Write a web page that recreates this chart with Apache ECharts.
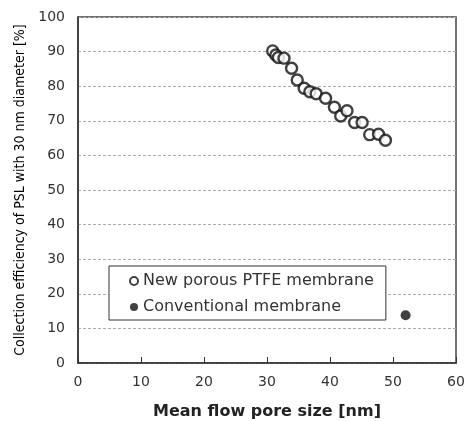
<!DOCTYPE html>
<html>
<head>
<meta charset="utf-8">
<script src="https://cdn.jsdelivr.net/npm/echarts@6/dist/echarts.min.js"></script>
<style>
  html, body { margin: 0; padding: 0; background: #fff; }
  #chart { width: 469px; height: 421px; }
</style>
</head>
<body>
<div id="chart"></div>
<script>
// pore size [nm] and collection efficiency [%]
const newPoreSize = [30.9, 31.4, 31.8, 32.7, 33.9, 34.8, 35.9, 36.8, 37.8, 39.3, 40.7, 41.7, 42.7, 43.9, 45.1, 46.3, 47.7, 48.8]
const newEfficiency = [90.2, 89.0, 88.3, 88.1, 85.2, 81.8, 79.4, 78.4, 77.8, 76.5, 73.9, 71.4, 72.9, 69.5, 69.5, 66.0, 66.1, 64.4]
const convPoreSize = [52.0]
const convEfficiency = [13.8]

const seriesNames = ['New porous PTFE membrane', 'Conventional membrane']

const zip = (xs, ys) => xs.map((x, i) => [x, ys[i]])

const chart = echarts.init(document.getElementById('chart'))

const tickFont = { fontFamily: 'DejaVu Sans', fontSize: 14, color: '#333' }

chart.setOption({
  animation: false,
  grid: {
    left: 78,
    right: 13,
    top: 17,
    bottom: 58,
    outerBoundsMode: 'none',
    show: true,
    borderColor: '#444',
    borderWidth: 1.5
  },
  legend: {
    orient: 'vertical',
    left: 109,
    top: 266,
    padding: [7, 12, 5, 20],
    itemGap: 10,
    itemWidth: 8,
    itemHeight: 8,
    backgroundColor: '#fff',
    borderColor: '#333',
    borderWidth: 1,
    textStyle: { fontFamily: 'DejaVu Sans', fontSize: 16, color: '#333' },
    data: seriesNames
  },
  xAxis: {
    type: 'value',
    min: 0,
    max: 60,
    interval: 10,
    name: 'Mean flow pore size [nm]',
    nameLocation: 'middle',
    nameGap: 41,
    nameTextStyle: { fontFamily: 'DejaVu Sans', fontSize: 16, fontWeight: 'bold', color: '#222' },
    axisLine: { lineStyle: { color: '#333', width: 1.5 } },
    axisTick: { inside: true, length: 6, lineStyle: { color: '#333' } },
    axisLabel: { ...tickFont, margin: 12 },
    splitLine: { show: false }
  },
  yAxis: {
    type: 'value',
    min: 0,
    max: 100,
    interval: 10,
    name: 'Collection efficiency of PSL with 30 nm diameter [%]',
    nameLocation: 'middle',
    nameGap: 49,
    nameTextStyle: { fontFamily: 'DejaVu Sans Condensed', fontSize: 14, color: '#000' },
    axisLine: { lineStyle: { color: '#333', width: 1.5 } },
    axisTick: { show: false },
    axisLabel: { ...tickFont, margin: 13 },
    splitLine: { lineStyle: { color: '#aaa', type: [3, 2], width: 1 } }
  },
  series: [
    {
      name: seriesNames[0],
      type: 'scatter',
      symbol: 'circle',
      symbolSize: 11,
      itemStyle: { color: '#fff', borderColor: '#111', borderWidth: 2.4 },
      data: zip(newPoreSize, newEfficiency)
    },
    {
      name: seriesNames[1],
      type: 'scatter',
      symbol: 'circle',
      symbolSize: 10,
      itemStyle: { color: '#111' },
      data: zip(convPoreSize, convEfficiency)
    }
  ]
})
</script>
</body>
</html>
